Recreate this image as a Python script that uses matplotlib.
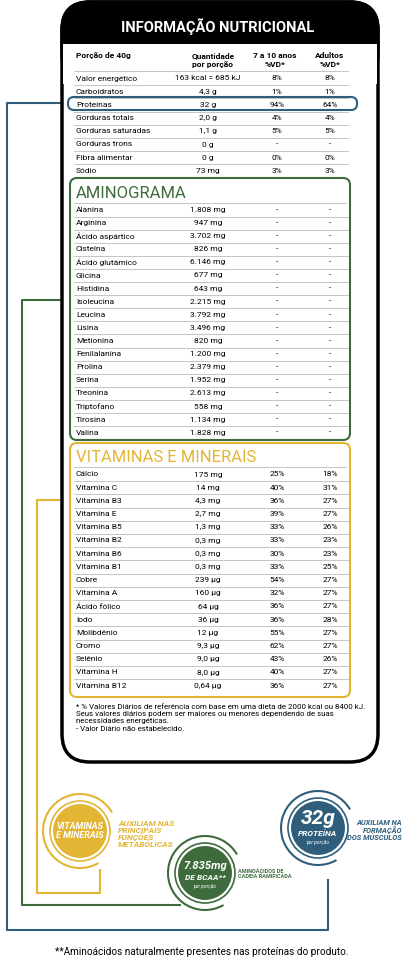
import matplotlib
matplotlib.use("Agg")
import matplotlib.pyplot as plt
from matplotlib.patches import FancyBboxPatch, Circle, Arc, Rectangle

plt.rcParams['font.family'] = ['Roboto', 'DejaVu Sans']

nut_labels = ["Valor energético", "Carboidratos", "Proteínas", "Gorduras totais", "Gorduras saturadas",
              "Gorduras trons", "Fibra alimentar", "Sódio"]
nut_qty = ["163 kcal = 685 kJ", "4,3 g", "32 g", "2,0 g", "1,1 g", "0 g", "0 g", "73 mg"]
nut_kids = ["8%", "1%", "94%", "4%", "5%", "-", "0%", "3%"]
nut_adults = ["8%", "1%", "64%", "4%", "5%", "-", "0%", "3%"]

amino_labels = ["Alanina", "Arginina", "Ácido aspártico", "Cisteína", "Ácido glutâmico", "Glicina", "Histidina",
                "Isoleucina", "Leucina", "Lisina", "Metionina", "Fenilalanina", "Prolina", "Serina", "Treonina",
                "Triptofano", "Tirosina", "Valina"]
amino_qty = ["1.808 mg", "947 mg", "3.702 mg", "826 mg", "6.146 mg", "677 mg", "643 mg", "2.215 mg", "3.792 mg",
             "3.496 mg", "820 mg", "1.200 mg", "2.379 mg", "1.952 mg", "2.613 mg", "558 mg", "1.134 mg", "1.828 mg"]

vit_labels = ["Cálcio", "Vitamina C", "Vitamina B3", "Vitamina E", "Vitamina B5", "Vitamina B2", "Vitamina B6",
              "Vitamina B1", "Cobre", "Vitamina A", "Ácido fólico", "Iodo", "Molibdênio", "Cromo", "Selênio",
              "Vitamina H", "Vitamina B12"]
vit_qty = ["175 mg", "14 mg", "4,3 mg", "2,7 mg", "1,3 mg", "0,3 mg", "0,3 mg", "0,3 mg", "239 µg", "160 µg",
           "64 µg", "36 µg", "12 µg", "9,3 µg", "9,0 µg", "8,0 µg", "0,64 µg"]
vit_kids = ["25%", "40%", "36%", "39%", "33%", "33%", "30%", "33%", "54%", "32%", "36%", "36%", "55%", "62%",
            "43%", "40%", "36%"]
vit_adults = ["18%", "31%", "27%", "27%", "26%", "23%", "23%", "25%", "27%", "27%", "27%", "28%", "27%", "27%",
              "26%", "27%", "27%"]

BLUE = "#2f5d7c"
GREEN = "#3e6b3c"
GOLD = "#e3b535"

fig = plt.figure(figsize=(4.04, 9.60), dpi=100)
ax = fig.add_axes([0, 0, 1, 1])
ax.set_xlim(0, 404)
ax.set_ylim(960, 0)
ax.axis('off')

# connector lines
ax.plot([68, 7, 7, 328, 328], [103, 103, 930, 930, 880], color=BLUE, lw=1.5)
ax.plot([70, 22, 22, 180], [300, 300, 905, 905], color=GREEN, lw=1.5)
ax.plot([70, 37, 37, 100, 100], [500, 500, 893, 893, 870], color=GOLD, lw=1.5)

# main black box
ax.add_patch(FancyBboxPatch((62, 2), 316, 760, boxstyle="round,pad=0,rounding_size=28",
                            fc="white", ec="black", lw=2.5, zorder=2))
ax.add_patch(FancyBboxPatch((62, 2), 316, 80, boxstyle="round,pad=0,rounding_size=28",
                            fc="black", ec="black", lw=2.5, zorder=2))
ax.add_patch(Rectangle((63.3, 44), 313.4, 40, fc="white", ec="none", zorder=2.5))
ax.text(218, 27, "INFORMAÇÃO NUTRICIONAL", color="white", fontsize=10.5, ha="center", va="center",
        fontweight="bold", fontstretch="condensed", zorder=4)

Z = 5
fs = 6
ax.text(76, 55, "Porção de 40g", fontsize=fs, fontweight="bold", va="center", zorder=Z)
ax.text(213, 60, "Quantidade\npor porção", fontsize=fs, fontweight="bold", va="center", ha="center", zorder=Z)
ax.text(275, 60, "7 a 10 anos\n%VD*", fontsize=fs, fontweight="bold", va="center", ha="center", zorder=Z)
ax.text(330, 60, "Adultos\n%VD*", fontsize=fs, fontweight="bold", va="center", ha="center", zorder=Z)

def rows(labels, qty, kids, adults, y0, dy, sep=True):
    for i, lab in enumerate(labels):
        y = y0 + i * dy
        ax.text(76, y, lab, fontsize=fs, va="center", zorder=Z)
        ax.text(208, y, qty[i], fontsize=fs, va="center", ha="center", zorder=Z)
        ax.text(277, y, kids[i], fontsize=fs, va="center", ha="center", zorder=Z)
        ax.text(330, y, adults[i], fontsize=fs, va="center", ha="center", zorder=Z)
        if sep and i < len(labels) - 1:
            ax.plot([74, 348], [y + dy / 2, y + dy / 2], color="#999999", lw=0.4, zorder=Z)

ax.plot([74, 348], [71, 71], color="#999999", lw=0.4, zorder=Z)
rows(nut_labels, nut_qty, nut_kids, nut_adults, 78.5, 13.2)
ax.add_patch(FancyBboxPatch((68, 97), 289, 13, boxstyle="round,pad=0,rounding_size=6",
                            fc="none", ec=BLUE, lw=1.5, zorder=6))

# aminograma
ax.add_patch(FancyBboxPatch((70, 178), 280, 262, boxstyle="round,pad=0,rounding_size=7",
                            fc="none", ec=GREEN, lw=1.5, zorder=6))
ax.text(76, 194, "AMINOGRAMA", fontsize=12, color=GREEN, va="center", fontstretch="condensed", zorder=Z)
ax.plot([74, 346], [203, 203], color="#999999", lw=0.4, zorder=Z)
rows(amino_labels, amino_qty, ["-"] * 18, ["-"] * 18, 210, 13.1)

# vitaminas
ax.add_patch(FancyBboxPatch((70, 443), 280, 254, boxstyle="round,pad=0,rounding_size=7",
                            fc="none", ec=GOLD, lw=1.5, zorder=6))
ax.text(76, 458, "VITAMINAS E MINERAIS", fontsize=12, color=GOLD, va="center", fontstretch="condensed", zorder=Z)
ax.plot([74, 346], [467, 467], color="#999999", lw=0.4, zorder=Z)
rows(vit_labels, vit_qty, vit_kids, vit_adults, 474.5, 13.2)

ax.text(76, 704, "* % Valores Diários de referência com base em uma dieta de 2000 kcal ou 8400 kJ.\n"
        "Seus valores diários podem ser maiores ou menores dependendo de suas\n"
        "necessidades energéticas.\n- Valor Diário não estabelecido.",
        fontsize=5.7, va="top", linespacing=1.25, zorder=Z)

# circles
def badge(cx, cy, col, r=28):
    ax.add_patch(Circle((cx, cy), r, fc=col, ec="white", lw=1.5, zorder=7))
    ax.add_patch(Circle((cx, cy), r + 2, fc="none", ec=col, lw=1.2, zorder=7))
    ax.add_patch(Arc((cx, cy), 2 * (r + 9), 2 * (r + 9), theta1=60, theta2=330, color=col, lw=1.5, zorder=7))

badge(80, 831, GOLD)
ax.text(80, 831, "VITAMINAS\nE MINERAIS", color="white", fontsize=6.5, fontweight="bold", style="italic",
        ha="center", va="center", linespacing=1.0, zorder=8)
ax.text(118, 834, "AUXILIAM NAS\nPRINCIPAIS\nFUNÇÕES\nMETABÓLICAS", color=GOLD, fontsize=6, fontweight="bold",
        style="italic", ha="left", va="center", linespacing=1.0, zorder=8)

badge(205, 873, GREEN)
ax.text(205, 866, "7.835mg", color="white", fontsize=8, fontweight="bold", style="italic", ha="center",
        va="center", zorder=8)
ax.text(205, 878, "DE BCAA**", color="white", fontsize=6, fontweight="bold", style="italic", ha="center",
        va="center", zorder=8)
ax.text(205, 886, "por porção", color="white", fontsize=3.5, style="italic", ha="center", va="center", zorder=8)
ax.text(238, 874, "AMINOÁCIDOS DE\nCADEIA RAMIFICADA", color=GREEN, fontsize=4, fontweight="bold", ha="left",
        va="center", zorder=8)

badge(318, 828, BLUE)
ax.text(318, 818, "32g", color="white", fontsize=15, fontweight="bold", style="italic", ha="center",
        va="center", zorder=8)
ax.text(318, 834, "PROTEÍNA", color="white", fontsize=6, fontweight="bold", style="italic", ha="center",
        va="center", zorder=8)
ax.text(318, 842, "por porção", color="white", fontsize=3.5, style="italic", ha="center", va="center", zorder=8)
ax.text(402, 830, "AUXILIAM NA\nFORMAÇÃO\nDOS MÚSCULOS", color=BLUE, fontsize=5.4, fontweight="bold",
        style="italic", ha="right", va="center", linespacing=1.0, zorder=8)

ax.text(202, 952, "**Aminoácidos naturalmente presentes nas proteínas do produto.", fontsize=7.2,
        ha="center", va="center", fontstretch="condensed")

fig.savefig("out.png", dpi=100, facecolor="white")
